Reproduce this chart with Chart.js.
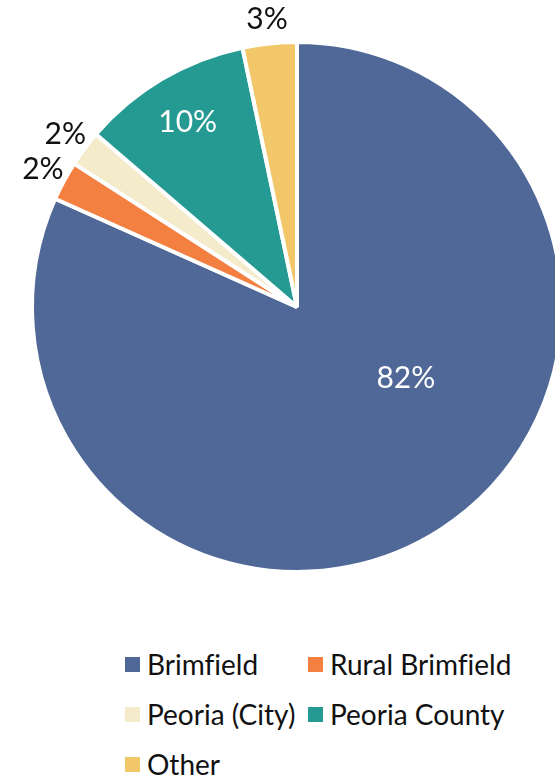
<!DOCTYPE html>
<html>
<head>
<meta charset="utf-8">
<script src="https://cdn.jsdelivr.net/npm/chart.js@4"></script>
<style>
  html, body { margin: 0; padding: 0; background: #fff; overflow: hidden; }
  body { width: 555px; height: 777px; position: relative; font-family: Lato, "Noto Sans", sans-serif; }
  #wrap { position: absolute; left: 0; top: 0; width: 594px; height: 614px; }
  #legend { position: absolute; left: 125px; top: 639px; display: grid; grid-template-columns: 183px auto; row-gap: 0; }
  .item { display: flex; align-items: center; height: 50px; font-size: 28px; color: #111; white-space: nowrap; font-variant-ligatures: none; }
  .box { width: 15px; height: 15px; margin-right: 7px; flex: none; }
</style>
</head>
<body>
<div id="wrap"><canvas id="pieChart"></canvas></div>
<div id="legend"></div>
<script>
const categories = ["Brimfield", "Rural Brimfield", "Peoria (City)", "Peoria County", "Other"];
const shares = [81.7, 2.4, 2.2, 10.4, 3.3];
const sliceColors = ["#506897", "#f37f40", "#f3ebc9", "#259a93", "#f2c76a"];

let pieChartInstance = null;

// draws the % labels, small slices outside the pie
const pctLabels = {
    id: "pctLabels",
    afterDatasetsDraw(chart, args, opts) {
        const ctx = chart.ctx;
        const meta = chart.getDatasetMeta(0);
        ctx.save();
        ctx.font = opts.font;
        ctx.textAlign = "center";
        ctx.textBaseline = "middle";
        meta.data.forEach((arc, i) => {
            const v = chart.data.datasets[0].data[i];
            const p = arc.getProps(["x", "y", "startAngle", "endAngle", "outerRadius"], true);
            let a = (p.startAngle + p.endAngle) / 2 + (opts.angleShift[i] || 0) * Math.PI / 180;
            let r, color;
            if (v >= 5) {
                r = p.outerRadius * (opts.inside[i] || 0.8);
                color = "#ffffff";
            } else {
                r = p.outerRadius + 24;
                color = "#111111";
            }
            ctx.fillStyle = color;
            ctx.fillText(Math.round(v) + "%", p.x + Math.cos(a) * r, p.y + Math.sin(a) * r);
        });
        ctx.restore();
    }
};

function loadPieChart() {
    const ctx = document.getElementById("pieChart");
    if (!ctx) return;
    if (pieChartInstance) pieChartInstance.destroy();

    pieChartInstance = new Chart(ctx, {
        type: "pie",
        data: {
            labels: categories,
            datasets: [{
                data: shares,
                backgroundColor: sliceColors,
                borderColor: "#ffffff",
                borderWidth: 4
            }]
        },
        options: {
            responsive: true,
            maintainAspectRatio: false,
            animation: false,
            radius: 265,
            plugins: {
                legend: { display: false },
                tooltip: { enabled: false },
                pctLabels: {
                    font: "30px Lato, 'Noto Sans', sans-serif",
                    inside: [0.49, 0.8, 0.8, 0.81, 0.8],
                    angleShift: [-24, 0, 0, 0, 0]
                }
            }
        },
        plugins: [pctLabels]
    });

    const legend = document.getElementById("legend");
    legend.innerHTML = "";
    categories.forEach((name, i) => {
        const item = document.createElement("div");
        item.className = "item";
        item.innerHTML = '<span class="box" style="background:' + sliceColors[i] + '"></span>' + name;
        legend.appendChild(item);
    });
}

document.addEventListener("DOMContentLoaded", () => {
    loadPieChart();
});
</script>
</body>
</html>
